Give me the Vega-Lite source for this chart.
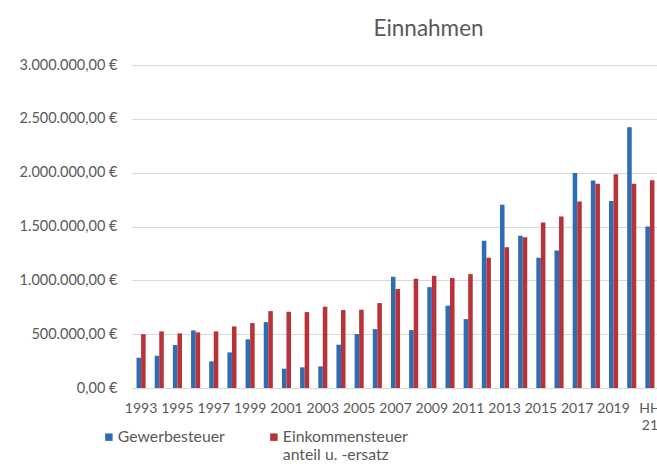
{
  "$schema": "https://vega.github.io/schema/vega-lite/v6.json",
  "autosize": {"type": "none"},
  "width": 527,
  "height": 323,
  "padding": {"left": 132, "top": 65, "right": 0, "bottom": 80},
  "background": "white",
  "config": {
    "locale": {"number": {"decimal": ",", "thousands": ".", "grouping": [3], "currency": ["", " €"]}},
    "view": {"stroke": null},
    "font": "Lato"
  },
  "title": {"text": "Einnahmen", "fontSize": 22.5, "font": "Lato", "fontWeight": "normal", "color": "#595959", "anchor": "middle", "dx": 33, "offset": 17},
  "data": {
    "values": [
      {"year": "1993", "series": "Gewerbesteuer", "value": 281000}, {"year": "1993", "series": "Einkommensteuer anteil u. -ersatz", "value": 500000},
      {"year": "1994", "series": "Gewerbesteuer", "value": 300000}, {"year": "1994", "series": "Einkommensteuer anteil u. -ersatz", "value": 526000},
      {"year": "1995", "series": "Gewerbesteuer", "value": 399000}, {"year": "1995", "series": "Einkommensteuer anteil u. -ersatz", "value": 507000},
      {"year": "1996", "series": "Gewerbesteuer", "value": 535000}, {"year": "1996", "series": "Einkommensteuer anteil u. -ersatz", "value": 517000},
      {"year": "1997", "series": "Gewerbesteuer", "value": 247000}, {"year": "1997", "series": "Einkommensteuer anteil u. -ersatz", "value": 526000},
      {"year": "1998", "series": "Gewerbesteuer", "value": 331000}, {"year": "1998", "series": "Einkommensteuer anteil u. -ersatz", "value": 572000},
      {"year": "1999", "series": "Gewerbesteuer", "value": 452000}, {"year": "1999", "series": "Einkommensteuer anteil u. -ersatz", "value": 603000},
      {"year": "2000", "series": "Gewerbesteuer", "value": 612000}, {"year": "2000", "series": "Einkommensteuer anteil u. -ersatz", "value": 714000},
      {"year": "2001", "series": "Gewerbesteuer", "value": 179000}, {"year": "2001", "series": "Einkommensteuer anteil u. -ersatz", "value": 708000},
      {"year": "2002", "series": "Gewerbesteuer", "value": 192000}, {"year": "2002", "series": "Einkommensteuer anteil u. -ersatz", "value": 705000},
      {"year": "2003", "series": "Gewerbesteuer", "value": 201000}, {"year": "2003", "series": "Einkommensteuer anteil u. -ersatz", "value": 755000},
      {"year": "2004", "series": "Gewerbesteuer", "value": 402000}, {"year": "2004", "series": "Einkommensteuer anteil u. -ersatz", "value": 724000},
      {"year": "2005", "series": "Gewerbesteuer", "value": 501000}, {"year": "2005", "series": "Einkommensteuer anteil u. -ersatz", "value": 727000},
      {"year": "2006", "series": "Gewerbesteuer", "value": 547000}, {"year": "2006", "series": "Einkommensteuer anteil u. -ersatz", "value": 789000},
      {"year": "2007", "series": "Gewerbesteuer", "value": 1033000}, {"year": "2007", "series": "Einkommensteuer anteil u. -ersatz", "value": 919000},
      {"year": "2008", "series": "Gewerbesteuer", "value": 538000}, {"year": "2008", "series": "Einkommensteuer anteil u. -ersatz", "value": 1015000},
      {"year": "2009", "series": "Gewerbesteuer", "value": 937000}, {"year": "2009", "series": "Einkommensteuer anteil u. -ersatz", "value": 1042000},
      {"year": "2010", "series": "Gewerbesteuer", "value": 764000}, {"year": "2010", "series": "Einkommensteuer anteil u. -ersatz", "value": 1021000},
      {"year": "2011", "series": "Gewerbesteuer", "value": 640000}, {"year": "2011", "series": "Einkommensteuer anteil u. -ersatz", "value": 1058000},
      {"year": "2012", "series": "Gewerbesteuer", "value": 1367000}, {"year": "2012", "series": "Einkommensteuer anteil u. -ersatz", "value": 1209000},
      {"year": "2013", "series": "Gewerbesteuer", "value": 1701000}, {"year": "2013", "series": "Einkommensteuer anteil u. -ersatz", "value": 1308000},
      {"year": "2014", "series": "Gewerbesteuer", "value": 1414000}, {"year": "2014", "series": "Einkommensteuer anteil u. -ersatz", "value": 1401000},
      {"year": "2015", "series": "Gewerbesteuer", "value": 1209000}, {"year": "2015", "series": "Einkommensteuer anteil u. -ersatz", "value": 1537000},
      {"year": "2016", "series": "Gewerbesteuer", "value": 1277000}, {"year": "2016", "series": "Einkommensteuer anteil u. -ersatz", "value": 1593000},
      {"year": "2017", "series": "Gewerbesteuer", "value": 1998000}, {"year": "2017", "series": "Einkommensteuer anteil u. -ersatz", "value": 1732000},
      {"year": "2018", "series": "Gewerbesteuer", "value": 1927000}, {"year": "2018", "series": "Einkommensteuer anteil u. -ersatz", "value": 1896000},
      {"year": "2019", "series": "Gewerbesteuer", "value": 1738000}, {"year": "2019", "series": "Einkommensteuer anteil u. -ersatz", "value": 1986000},
      {"year": "2020", "series": "Gewerbesteuer", "value": 2422000}, {"year": "2020", "series": "Einkommensteuer anteil u. -ersatz", "value": 1896000},
      {"year": "HH 21", "series": "Gewerbesteuer", "value": 1500000}, {"year": "HH 21", "series": "Einkommensteuer anteil u. -ersatz", "value": 1930000}
    ]
  },
  "mark": {"type": "bar"},
  "encoding": {
    "x": {
      "field": "year", "type": "nominal", "title": null,
      "scale": {"paddingInner": 0.5, "paddingOuter": 0.25},
      "axis": {
        "values": ["1993", "1995", "1997", "1999", "2001", "2003", "2005", "2007", "2009", "2011", "2013", "2015", "2017", "2019", "HH 21"],
        "labelExpr": "split(datum.label, ' ')",
        "labelAngle": 0, "ticks": false, "domain": false, "grid": false,
        "labelPadding": 13, "labelFontSize": 14, "labelColor": "#595959", "labelFont": "Lato", "labelLineHeight": 17,
        "labelOverlap": false
      }
    },
    "xOffset": {"field": "series", "sort": ["Gewerbesteuer", "Einkommensteuer anteil u. -ersatz"]},
    "y": {
      "field": "value", "type": "quantitative", "title": null,
      "scale": {"domain": [0, 3000000]},
      "axis": {
        "values": [0, 500000, 1000000, 1500000, 2000000, 2500000, 3000000],
        "format": "$,.2f", "ticks": false, "domain": false,
        "gridColor": "#d9d9d9", "gridWidth": 1.2,
        "labelPadding": 15, "labelFontSize": 14.5, "labelColor": "#595959", "labelFont": "Lato"
      }
    },
    "color": {
      "field": "series", "type": "nominal",
      "scale": {"domain": ["Gewerbesteuer", "Einkommensteuer anteil u. -ersatz"], "range": ["#2E6DB4", "#B8323A"]},
      "legend": {
        "title": null, "orient": "none", "legendX": -31, "legendY": 364, "direction": "horizontal", "columns": 2,
        "symbolType": "square", "symbolSize": 56, "symbolStrokeWidth": 0, "symbolOffset": 0,
        "labelFontSize": 15.8, "labelColor": "#595959", "labelFont": "Lato", "labelLimit": 300, "labelOffset": 1,
        "labelExpr": "datum.label == 'Gewerbesteuer' ? ['Gewerbesteuer', ' '] : ['Einkommensteuer', 'anteil u. -ersatz']",
        "labelBaseline": "middle", "labelLineHeight": 21, "columnPadding": 41, "padding": 0
      }
    }
  }
}
